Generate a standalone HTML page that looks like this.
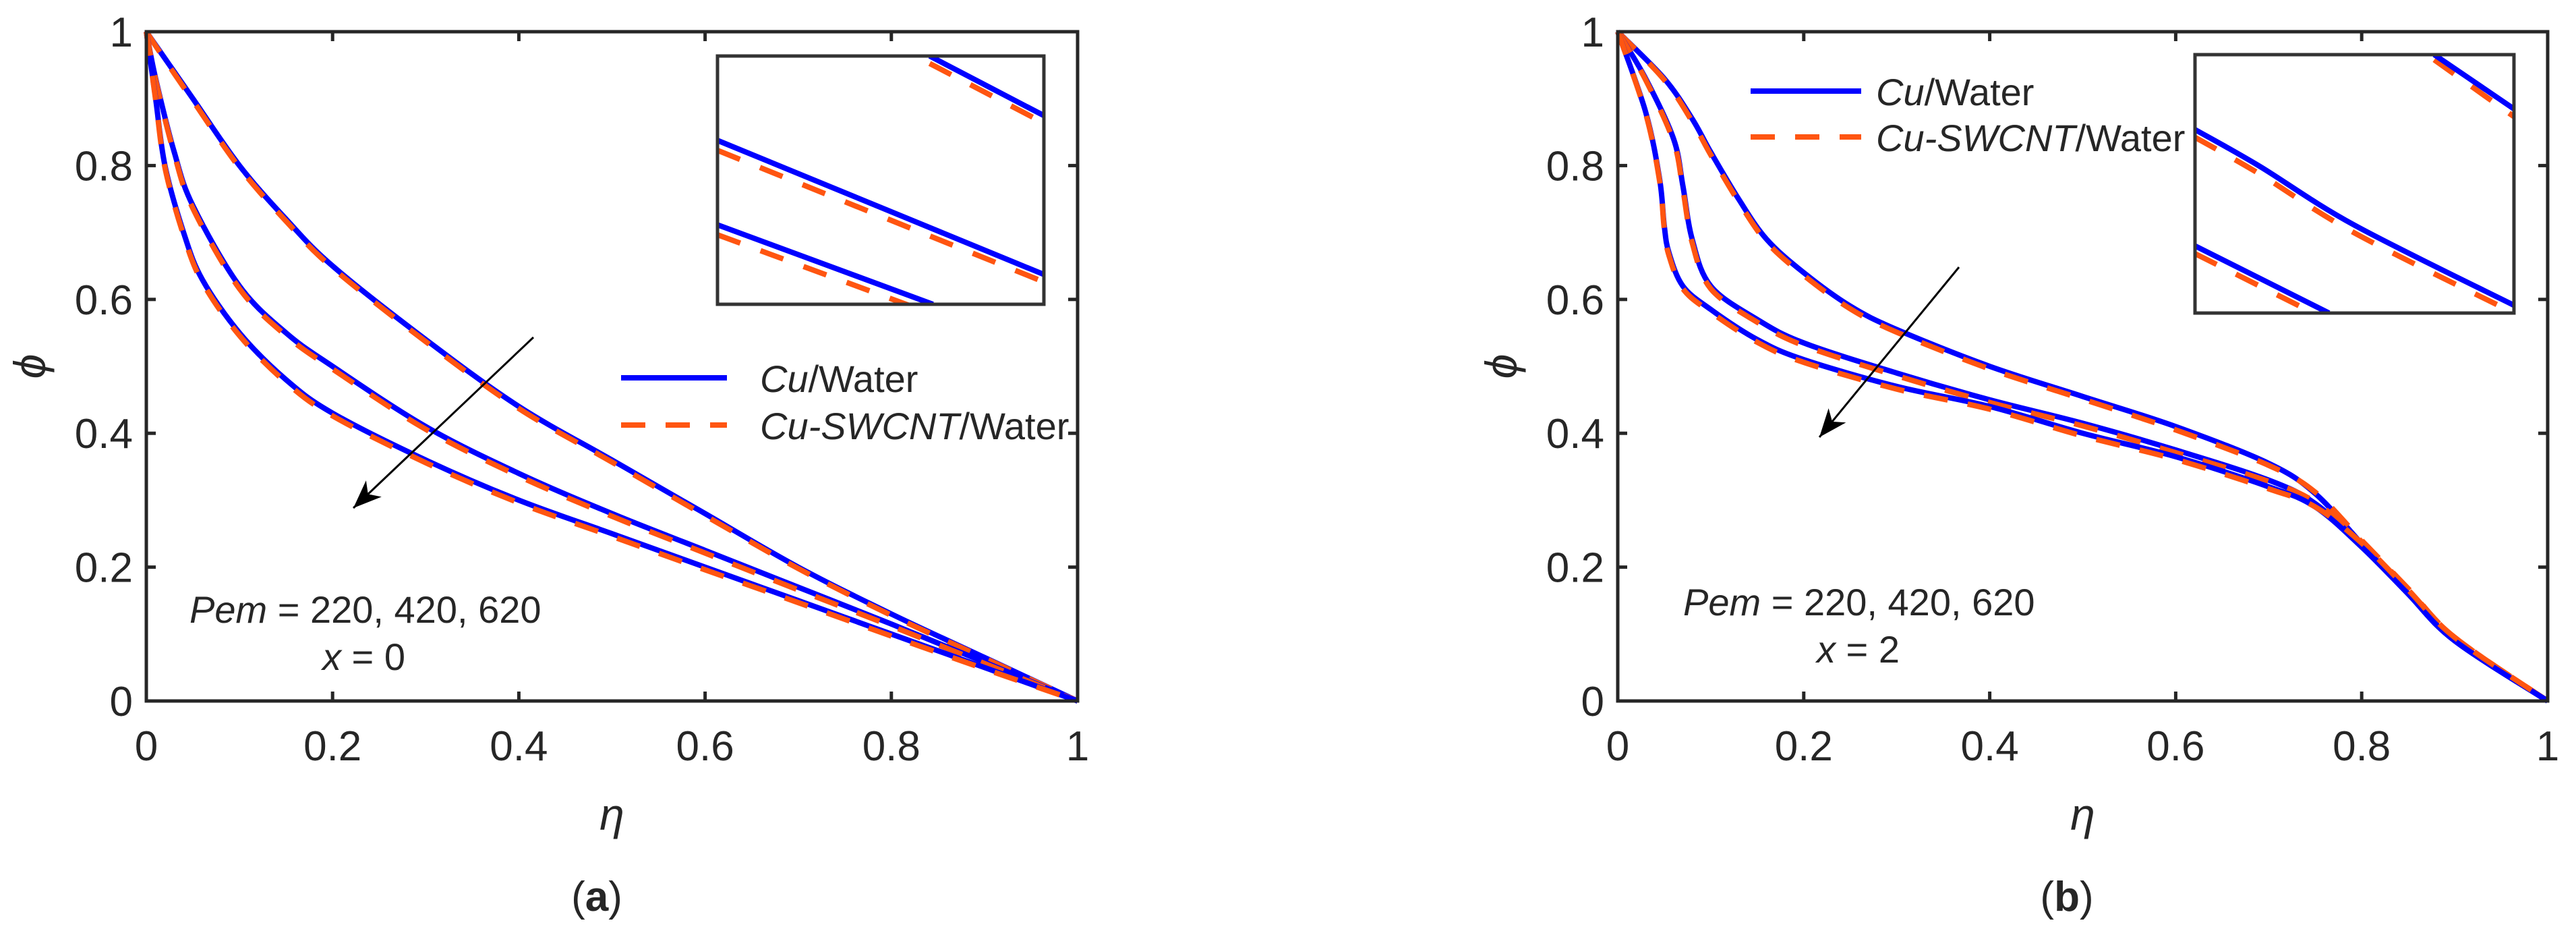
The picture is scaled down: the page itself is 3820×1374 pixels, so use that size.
<!DOCTYPE html>
<html><head><meta charset="utf-8"><style>
html,body{margin:0;padding:0;background:#fff;}
svg{display:block;}
text{font-family:"Liberation Sans",Arial,sans-serif;fill:#262626;}
</style></head><body>
<svg id="fig" width="3820" height="1374" viewBox="0 0 3820 1374" xmlns="http://www.w3.org/2000/svg"></svg>
<script>
const xTicks=[0,0.2,0.4,0.6,0.8,1];
const yTicks=[0,0.2,0.4,0.6,0.8,1];
const xTickLabels=["0","0.2","0.4","0.6","0.8","1"];
const yTickLabels=["0","0.2","0.4","0.6","0.8","1"];
// Panel (a) x=0
const etaA1=[0,0.02,0.05,0.1,0.15,0.2,0.3,0.4,0.5,0.6,0.7,0.8,0.9,1];
const cuA1=[1,0.96,0.90,0.80,0.72,0.65,0.54,0.44,0.36,0.28,0.20,0.13,0.065,0];
const hyA1=[1,0.958,0.897,0.797,0.717,0.647,0.537,0.437,0.357,0.277,0.198,0.128,0.064,0];
const etaA2=[0,0.01,0.03,0.05,0.1,0.15,0.2,0.3,0.4,0.5,0.6,0.7,0.8,0.9,1];
const cuA2=[1,0.93,0.82,0.74,0.62,0.55,0.50,0.41,0.34,0.28,0.225,0.17,0.115,0.058,0];
const hyA2=[1,0.928,0.817,0.736,0.616,0.546,0.496,0.406,0.336,0.276,0.221,0.166,0.112,0.056,0];
const etaA3=[0,0.01,0.02,0.04,0.06,0.1,0.15,0.2,0.3,0.4,0.5,0.6,0.7,0.8,0.9,1];
const cuA3=[1,0.9,0.8,0.7,0.63,0.55,0.48,0.43,0.36,0.30,0.25,0.20,0.15,0.10,0.05,0];
const hyA3=[1,0.898,0.797,0.696,0.626,0.546,0.476,0.426,0.356,0.296,0.246,0.196,0.147,0.097,0.048,0];
// Panel (b) x=2
const etaB1=[0,0.05,0.08,0.1,0.13,0.16,0.2,0.25,0.3,0.4,0.5,0.6,0.7,0.75,0.8,0.85,0.9,1];
const cuB1=[1,0.93,0.87,0.82,0.75,0.69,0.64,0.59,0.555,0.50,0.455,0.41,0.355,0.31,0.235,0.16,0.09,0];
const hyB1=[1,0.928,0.866,0.816,0.746,0.686,0.636,0.586,0.551,0.496,0.451,0.405,0.352,0.312,0.24,0.168,0.095,0];
const etaB2=[0,0.03,0.06,0.07,0.08,0.1,0.15,0.2,0.3,0.4,0.5,0.6,0.7,0.75,0.8,0.85,0.9,1];
const cuB2=[1,0.93,0.84,0.77,0.69,0.62,0.57,0.535,0.49,0.45,0.415,0.375,0.33,0.295,0.232,0.16,0.09,0];
const hyB2=[1,0.928,0.836,0.765,0.685,0.616,0.566,0.531,0.486,0.446,0.411,0.371,0.328,0.297,0.238,0.167,0.095,0];
const etaB3=[0,0.03,0.045,0.05,0.055,0.07,0.1,0.15,0.2,0.3,0.4,0.5,0.6,0.7,0.75,0.8,0.85,0.9,1];
const cuB3=[1,0.88,0.78,0.71,0.67,0.62,0.585,0.54,0.51,0.47,0.44,0.40,0.365,0.32,0.29,0.23,0.16,0.09,0];
const hyB3=[1,0.878,0.777,0.706,0.666,0.616,0.581,0.536,0.506,0.466,0.436,0.396,0.361,0.317,0.29,0.236,0.166,0.095,0];
// Inset segments (fractions of inset box: x from left, y from top)
const insetAxCu=[[0.65,1],[0,1],[0,0.66]];
const insetAyCu=[[0,0.24],[0.34,0.88],[0.68,1]];
const insetAyHy=[[0.03,0.27],[0.38,0.91],[0.72,1.04]];
const insetBxCu=[[0.75,1],[0,0.2,0.5,1],[0,0.42]];
const insetByCu=[[0,0.21],[0.29,0.43,0.66,0.97],[0.74,1]];
const insetByHy=[[0.02,0.24],[0.32,0.46,0.69,1.0],[0.77,1.03]];

const NS="http://www.w3.org/2000/svg";
const svg=document.getElementById('fig');
function mk(tag,attrs,parent){const e=document.createElementNS(NS,tag);for(const k in attrs)e.setAttribute(k,attrs[k]);(parent||svg).appendChild(e);return e;}
function smooth(pts){let d="M"+pts[0][0]+","+pts[0][1];for(let i=0;i<pts.length-1;i++){const p0=pts[i-1]||pts[i],p1=pts[i],p2=pts[i+1],p3=pts[i+2]||p2;const c1x=p1[0]+(p2[0]-p0[0])/6,c1y=p1[1]+(p2[1]-p0[1])/6,c2x=p2[0]-(p3[0]-p1[0])/6,c2y=p2[1]-(p3[1]-p1[1])/6;d+=" C"+c1x+","+c1y+" "+c2x+","+c2y+" "+p2[0]+","+p2[1];}return d;}

function panel(cfg){
  const g=mk('g',{});
  
  
  const sx=v=>cfg.L+v*(cfg.R-cfg.L), sy=v=>cfg.B-v*(cfg.B-cfg.T);
  cfg.series.forEach((s,i)=>{
    const pc=s.eta.map((e,j)=>[sx(e),sy(s.cu[j])]);
    const ph=s.eta.map((e,j)=>[sx(e),sy(s.hy[j])]);
    const a=mk('path',{d:smooth(pc),fill:'none',stroke:'#0000ff','stroke-width':8},g);
    
    
    const b=mk('path',{d:smooth(ph),fill:'none',stroke:'#ff5511','stroke-width':8,'stroke-dasharray':'36 30'},g);
    
    
  });
  const box=mk('rect',{x:cfg.L,y:cfg.T,width:cfg.R-cfg.L,height:cfg.B-cfg.T,fill:'none',stroke:'#262626','stroke-width':5},g);
  
  
  xTicks.forEach((v,i)=>{
    const x=sx(v);
    mk('line',{x1:x,y1:cfg.B,x2:x,y2:cfg.B-14,stroke:'#262626','stroke-width':5},g);
    mk('line',{x1:x,y1:cfg.T,x2:x,y2:cfg.T+14,stroke:'#262626','stroke-width':5},g);
    const t=mk('text',{x:x,y:cfg.B+88,'text-anchor':'middle','font-size':62},g);
    t.textContent=xTickLabels[i];
    
    
  });
  yTicks.forEach((v,i)=>{
    const y=sy(v);
    mk('line',{x1:cfg.L,y1:y,x2:cfg.L+14,y2:y,stroke:'#262626','stroke-width':5},g);
    mk('line',{x1:cfg.R,y1:y,x2:cfg.R-14,y2:y,stroke:'#262626','stroke-width':5},g);
    const t=mk('text',{x:cfg.L-20,y:y+22,'text-anchor':'end','font-size':62},g);
    t.textContent=yTickLabels[i];
    
    
  });
  const xl=mk('text',{x:(cfg.L+cfg.R)/2,y:1230,'text-anchor':'middle','font-size':66,'font-family':'"Liberation Serif",serif','font-style':'italic'},g);
  xl.textContent='η';
  
  
  const yl=mk('text',{x:0,y:0,'text-anchor':'middle','font-size':66,'font-family':'"Liberation Serif",serif','font-style':'italic',transform:'translate('+(cfg.L-150)+','+((cfg.T+cfg.B)/2)+') rotate(-90)'},g);
  yl.textContent='ϕ';
  
  
  const ig=mk('g',{},g);
  
  
  const I=cfg.inset, ix=f=>I.x+f*I.w, iy=f=>I.y+f*I.h;
  const cp=mk('clipPath',{id:cfg.name+'-clip'},ig);
  mk('rect',{x:I.x,y:I.y,width:I.w,height:I.h},cp);
  const cg=mk('g',{'clip-path':'url(#'+cfg.name+'-clip)'},ig);
  cfg.insetX.forEach((xs,i)=>{
    const pc=xs.map((f,j)=>[ix(f),iy(cfg.insetYc[i][j])]);
    const ph=xs.map((f,j)=>[ix(f),iy(cfg.insetYh[i][j])]);
    const b=mk('path',{d:smooth(ph),fill:'none',stroke:'#ff5511','stroke-width':8,'stroke-dasharray':'36 32'},cg);
    
    
    const a=mk('path',{d:smooth(pc),fill:'none',stroke:'#0000ff','stroke-width':8},cg);
    
    
  });
  mk('rect',{x:I.x,y:I.y,width:I.w,height:I.h,fill:'none',stroke:'#333','stroke-width':5},ig);
  const lg=mk('g',{},g);
  
  
  const Lg=cfg.legend;
  mk('line',{x1:Lg.x1,y1:Lg.y1,x2:Lg.x2,y2:Lg.y1,stroke:'#0000ff','stroke-width':8},lg);
  mk('line',{x1:Lg.x1,y1:Lg.y2,x2:Lg.x2,y2:Lg.y2,stroke:'#ff5511','stroke-width':8,'stroke-dasharray':'36 30'},lg);
  const t1=mk('text',{x:Lg.tx,y:Lg.y1+21,'font-size':56},lg);
  t1.innerHTML='<tspan font-style="italic">Cu</tspan>/Water';
  
  
  const t2=mk('text',{x:Lg.tx,y:Lg.y2+21,'font-size':56},lg);
  t2.innerHTML='<tspan font-style="italic">Cu-SWCNT</tspan>/Water';
  
  
  const a1=mk('text',{x:cfg.ann.x1,y:cfg.ann.y1,'font-size':56},g);
  a1.innerHTML='<tspan font-style="italic">Pem</tspan> = 220, 420, 620';
  
  
  const a2=mk('text',{x:cfg.ann.x2,y:cfg.ann.y2,'font-size':56},g);
  a2.innerHTML='<tspan font-style="italic">x</tspan> = '+cfg.xval;
  
  
  const A=cfg.arrow;
  const ar=mk('g',{},g);
  
  
  mk('line',{x1:A[0],y1:A[1],x2:A[2],y2:A[3],stroke:'#000','stroke-width':3},ar);
  const ang=Math.atan2(A[3]-A[1],A[2]-A[0]),L=45,W=0.38;
  const p1=[A[2]-L*Math.cos(ang-W),A[3]-L*Math.sin(ang-W)],p2=[A[2]-L*Math.cos(ang+W),A[3]-L*Math.sin(ang+W)],pm=[A[2]-30*Math.cos(ang),A[3]-30*Math.sin(ang)];
  mk('polygon',{points:[A[2],A[3],p1[0],p1[1],pm[0],pm[1],p2[0],p2[1]].join(','),fill:'#000'},ar);
  const cap=mk('text',{x:cfg.cap,y:1350,'text-anchor':'middle','font-size':62,'font-family':'"Liberation Serif",serif'},g);
  cap.innerHTML='(<tspan font-weight="bold">'+cfg.letter+'</tspan>)';
  
  
}
panel({name:'panel-a',L:217,R:1598,T:47,B:1039,letter:'a',xval:'0',cap:885,
  series:[{eta:etaA1,cu:cuA1,hy:hyA1},{eta:etaA2,cu:cuA2,hy:hyA2},{eta:etaA3,cu:cuA3,hy:hyA3}],
  inset:{x:1064,y:83,w:484,h:368},insetX:insetAxCu,insetYc:insetAyCu,insetYh:insetAyHy,
  legend:{x1:921,x2:1078,y1:560,y2:630,tx:1127},
  ann:{x1:281,y1:923,x2:478,y2:993},arrow:[791,500,524,753]});
panel({name:'panel-b',L:2399,R:3778,T:47,B:1039,letter:'b',xval:'2',cap:3065,
  series:[{eta:etaB1,cu:cuB1,hy:hyB1},{eta:etaB2,cu:cuB2,hy:hyB2},{eta:etaB3,cu:cuB3,hy:hyB3}],
  inset:{x:3255,y:81,w:473,h:383},insetX:insetBxCu,insetYc:insetByCu,insetYh:insetByHy,
  legend:{x1:2596,x2:2760,y1:135,y2:203,tx:2782},
  ann:{x1:2496,y1:912,x2:2694,y2:982},arrow:[2905,396,2698,648]});
</script>
</body></html>
